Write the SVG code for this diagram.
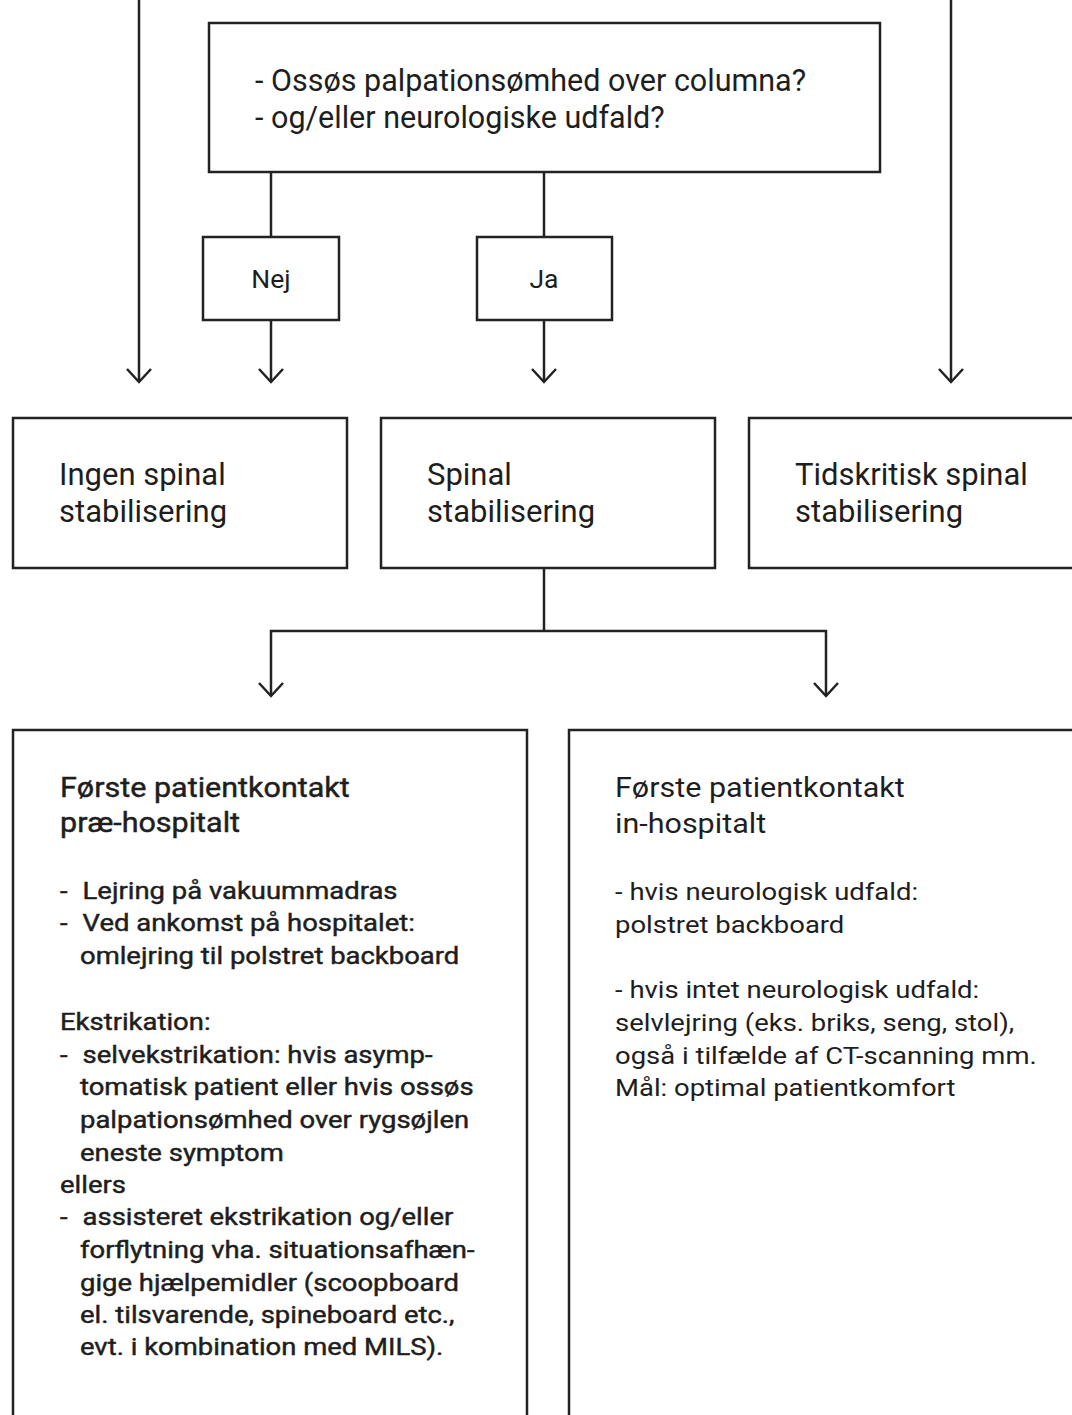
<svg xmlns="http://www.w3.org/2000/svg" width="1072" height="1415" viewBox="0 0 1072 1415">
<defs>
<style>
.box{fill:#fff;stroke:#222;stroke-width:2.5}
.ln{fill:none;stroke:#222;stroke-width:2.5}
.ah{fill:none;stroke:#222;stroke-width:2.5;stroke-linejoin:miter}
text{font-family:Roboto,"Liberation Sans",sans-serif;fill:#1e1e1e}
.q{font-size:30.5px}
.yn{font-size:26.5px}
.mid{font-size:31px}
.hd{font-size:27px}
.bt{font-size:24.3px}
.heavy text{stroke:#1e1e1e;stroke-width:0.45px}
</style>
</defs>
<rect width="1072" height="1415" fill="#fff"/>
<g id="connectors">
<line class="ln" x1="139" y1="0" x2="139" y2="382"/>
<polyline class="ah" points="127,369 139,382 151,369"/>
<line class="ln" x1="951" y1="0" x2="951" y2="382"/>
<polyline class="ah" points="939,369 951,382 963,369"/>
<line class="ln" x1="271" y1="172" x2="271" y2="237"/>
<line class="ln" x1="271" y1="320" x2="271" y2="382"/>
<polyline class="ah" points="259,369 271,382 283,369"/>
<line class="ln" x1="544" y1="172" x2="544" y2="237"/>
<line class="ln" x1="544" y1="320" x2="544" y2="382"/>
<polyline class="ah" points="532,369 544,382 556,369"/>
<polyline class="ln" points="544,568 544,631"/>
<polyline class="ln" points="271,696 271,631 826,631 826,696"/>
<polyline class="ah" points="259,683 271,696 283,683"/>
<polyline class="ah" points="814,683 826,696 838,683"/>
</g>
<g id="question">
<rect class="box" x="209" y="23" width="671" height="149"/>
<text class="q" x="255" y="91">- Ossøs palpationsømhed over columna?</text>
<text class="q" x="255" y="128">- og/eller neurologiske udfald?</text>
</g>
<g id="nej">
<rect class="box" x="203" y="237" width="136" height="83"/>
<text class="yn" x="271" y="288" text-anchor="middle">Nej</text>
</g>
<g id="ja">
<rect class="box" x="477" y="237" width="135" height="83"/>
<text class="yn" x="544" y="288" text-anchor="middle">Ja</text>
</g>
<g id="ingen">
<rect class="box" x="13" y="418" width="334" height="150"/>
<text class="mid" x="59" y="485">Ingen spinal</text>
<text class="mid" x="59" y="522">stabilisering</text>
</g>
<g id="spinal">
<rect class="box" x="381" y="418" width="334" height="150"/>
<text class="mid" x="427" y="485">Spinal</text>
<text class="mid" x="427" y="522">stabilisering</text>
</g>
<g id="tidskritisk">
<rect class="box" x="749" y="418" width="340" height="150"/>
<text class="mid" x="795" y="485">Tidskritisk spinal</text>
<text class="mid" x="795" y="522">stabilisering</text>
</g>
<g id="praehospitalt">
<rect class="box" x="13" y="730" width="514" height="700"/>
<g class="heavy" transform="translate(60,0) scale(1.13,1)">
<text class="hd" x="0" y="797">Første patientkontakt</text>
<text class="hd" x="0" y="832">præ-hospitalt</text>
<text class="bt" x="0" y="899">-</text><text class="bt" x="20" y="899">Lejring på vakuummadras</text>
<text class="bt" x="0" y="931">-</text><text class="bt" x="20" y="931">Ved ankomst på hospitalet:</text>
<text class="bt" x="17.7" y="964">omlejring til polstret backboard</text>
<text class="bt" x="0" y="1030">Ekstrikation:</text>
<text class="bt" x="0" y="1063">-</text><text class="bt" x="20" y="1063">selvekstrikation: hvis asymp-</text>
<text class="bt" x="17.7" y="1095">tomatisk patient eller hvis ossøs</text>
<text class="bt" x="17.7" y="1128">palpationsømhed over rygsøjlen</text>
<text class="bt" x="17.7" y="1161">eneste symptom</text>
<text class="bt" x="0" y="1193">ellers</text>
<text class="bt" x="0" y="1225">-</text><text class="bt" x="20" y="1225">assisteret ekstrikation og/eller</text>
<text class="bt" x="17.7" y="1258">forflytning vha. situationsafhæn-</text>
<text class="bt" x="17.7" y="1291">gige hjælpemidler (scoopboard</text>
<text class="bt" x="17.7" y="1323">el. tilsvarende, spineboard etc.,</text>
<text class="bt" x="17.7" y="1355">evt. i kombination med MILS).</text>
</g>
</g>
<g id="inhospitalt">
<rect class="box" x="569" y="730" width="520" height="700"/>
<g transform="translate(615,0) scale(1.13,1)">
<text class="hd" x="0" y="797">Første patientkontakt</text>
<text class="hd" x="0" y="833">in-hospitalt</text>
<text class="bt" x="0" y="900">- hvis neurologisk udfald:</text>
<text class="bt" x="0" y="933">polstret backboard</text>
<text class="bt" x="0" y="998">- hvis intet neurologisk udfald:</text>
<text class="bt" x="0" y="1031">selvlejring (eks. briks, seng, stol),</text>
<text class="bt" x="0" y="1064">også i tilfælde af CT-scanning mm.</text>
<text class="bt" x="0" y="1096">Mål: optimal patientkomfort</text>
</g>
</g>
</svg>
